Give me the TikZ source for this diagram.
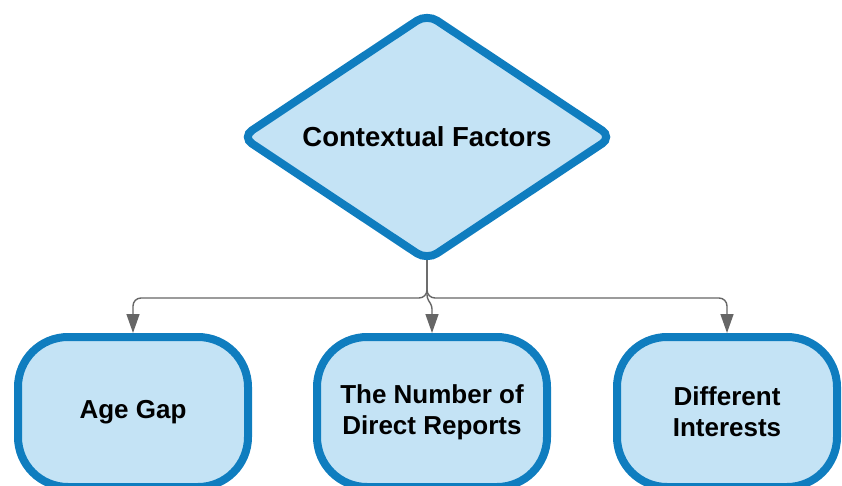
\documentclass[tikz,border=0pt]{standalone}
\usepackage{fontspec}
\setmainfont{Liberation Sans}
\usetikzlibrary{shapes.geometric,arrows.meta}

\definecolor{boxfill}{HTML}{C4E3F5}
\definecolor{boxline}{HTML}{0F7DBF}
\definecolor{connline}{HTML}{666666}

\begin{document}
\begin{tikzpicture}[x=1pt,y=-1pt,
    factor/.style={draw=boxline,fill=boxfill,line width=8pt,align=center,
      font=\fontsize{26}{31}\selectfont\bfseries},
    outcome/.style={factor,rounded corners=50pt,minimum width=230pt,minimum height=150pt},
    conn/.style={draw=connline,line width=1.4pt,rounded corners=8pt,
      -{Triangle[length=19pt,width=13pt]}}]
    \useasboundingbox (0,0) rectangle (842,486);
    \node[factor,diamond,aspect=1.5,inner sep=0pt,outer sep=0pt,rounded corners=12pt,
      minimum width=370pt,minimum height=246pt,font=\fontsize{27.5}{31}\selectfont\bfseries]
      (a) at (427,137) {Contextual Factors};
    \node[outcome] (b) at (133,412) {Age Gap};
    \node[outcome] (c) at (432,412) {The Number of\\Direct Reports};
    \node[outcome,minimum width=220pt] (d) at (727,412) {Different\\Interests};
    \coordinate (j) at (427,298);
    \draw[conn] (a.south) -- (j) -| (b.north);
    \draw[conn] (a.south) -- (j) -| (d.north);
    \draw[conn,rounded corners=3pt] (a.south) -- (j) -- ([yshift=-8pt]j -| c.north) -- (c.north);
  \end{tikzpicture}
\end{document}
